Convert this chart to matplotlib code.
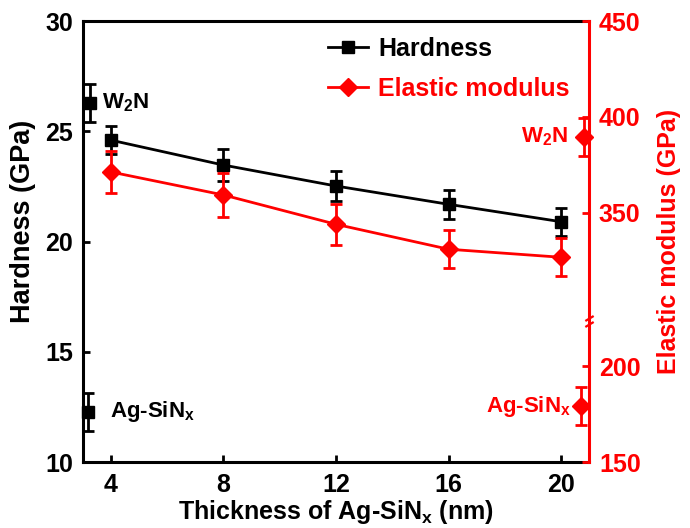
import numpy as np
import matplotlib
matplotlib.use("Agg")
from matplotlib import pyplot as plt
from matplotlib.transforms import blended_transform_factory

plt.rcParams['font.family'] = ['Liberation Sans', 'DejaVu Sans']
plt.rcParams['font.weight'] = 'bold'
plt.rcParams['mathtext.fontset'] = 'custom'
plt.rcParams['mathtext.rm'] = 'Liberation Sans:bold'
plt.rcParams['mathtext.bf'] = 'Liberation Sans:bold'
plt.rcParams['mathtext.default'] = 'bf'

# multilayer thickness (nm)
thickness = [4, 8, 12, 16, 20]
hardness = [24.6, 23.47, 22.52, 21.69, 20.9]
hardness_err = [0.65, 0.72, 0.67, 0.66, 0.63]
modulus = [371.3, 359.3, 344.0, 331.0, 326.8]
modulus_err = [11.0, 11.3, 10.7, 10.0, 10.0]

# single-layer reference films
ref_names = ['W$_2$N', 'Ag-SiN$_x$']
ref_hard_x = [3.25, 3.18]
ref_hard = [26.28, 12.27]
ref_hard_err = [0.85, 0.87]
ref_mod_x = [20.82, 20.7]
ref_mod = [389.7, 179.2]
ref_mod_err = [10.0, 10.0]

# broken right axis: 225..295 GPa is cut out
brk_lo, brk_hi = 225, 295
gap = brk_hi - brk_lo


def fwd(v):
    v = np.asarray(v, dtype=float)
    return np.where(v > brk_hi, v - gap, np.minimum(v, brk_lo))


def inv(u):
    u = np.asarray(u, dtype=float)
    return np.where(u > brk_lo, u + gap, u)


red = '#ff0000'
fig = plt.figure(figsize=(6.9, 5.28), dpi=100)
ax = fig.add_axes([0.120, 0.125, 0.734, 0.835])
ax2 = ax.twinx()

h_line, = ax.plot(thickness, hardness, color='black', lw=2.0, marker='s',
                  ms=9, label='Hardness', zorder=3)
ax.errorbar(thickness, hardness, yerr=hardness_err, fmt='none', ecolor='black',
            elinewidth=2, capsize=4.5, capthick=2, zorder=3)
ax.errorbar(ref_hard_x, ref_hard, yerr=ref_hard_err, fmt='s', color='black',
            ms=9, elinewidth=2, capsize=4.5, capthick=2, clip_on=False, zorder=3)

ax2.set_yscale('function', functions=(fwd, inv))
m_line, = ax2.plot(thickness, modulus, color=red, lw=2.0, marker='D',
                   ms=9, label='Elastic modulus', zorder=3)
ax2.errorbar(thickness, modulus, yerr=modulus_err, fmt='none', ecolor=red,
             elinewidth=2, capsize=4.5, capthick=2, zorder=3)
ax2.errorbar(ref_mod_x, ref_mod, yerr=ref_mod_err, fmt='D', color=red,
             ms=9, elinewidth=2, capsize=4.5, capthick=2, clip_on=False, zorder=3)

ax.set_xlim(3, 21)
ax.set_ylim(10, 30)
ax.set_xticks(thickness)
ax.set_yticks([10, 15, 20, 25, 30])
ax2.set_ylim(150, 450)
ax2.set_yticks([150, 200, 350, 400, 450])

for s in ['left', 'bottom', 'top']:
    ax.spines[s].set_linewidth(2.2)
for s in ['left', 'bottom', 'top']:
    ax2.spines[s].set_visible(False)
ax2.spines['right'].set_linewidth(2.2)
ax2.spines['right'].set_color(red)
ax.spines['right'].set_visible(False)

ax.tick_params(axis='both', direction='in', length=5, width=2, labelsize=18)
ax.tick_params(axis='y', pad=7)
ax.tick_params(axis='x', pad=8)
ax2.tick_params(axis='y', direction='in', length=5, width=2, labelsize=18,
                colors=red, pad=7)

ax.set_xlabel('Thickness of Ag-SiN$_x$ (nm)', fontsize=18, fontweight='bold',
              labelpad=1)
ax.set_ylabel('Hardness (GPa)', fontsize=19.5, fontweight='bold')
ax.yaxis.set_label_coords(-0.092, 0.546)
ax2.set_ylabel('Elastic modulus (GPa)', fontsize=18, fontweight='bold',
               color=red, labelpad=12)

# break mark on the right spine
tr = blended_transform_factory(ax2.transAxes, ax2.transData)
for dy in (-3, 3):
    ax2.plot([1], [brk_lo + dy], transform=tr, marker=[(-1, -0.6), (1, 0.6)],
             ms=6, mew=1.6, color=red, clip_on=False, zorder=5)

# labels for the reference films
ax.text(3.7, ref_hard[0], ref_names[0], fontsize=16, fontweight='bold',
        va='center', ha='left')
ax.text(3.95, ref_hard[1], ref_names[1], fontsize=16, fontweight='bold',
        va='center', ha='left')
ax2.text(20.25, ref_mod[0], ref_names[0], fontsize=16, fontweight='bold',
         color=red, va='center', ha='right')
ax2.text(20.35, ref_mod[1], ref_names[1], fontsize=16, fontweight='bold',
         color=red, va='center', ha='right')

leg = ax.legend(handles=[h_line, m_line], loc='upper left',
                bbox_to_anchor=(0.44, 1.015), frameon=False, fontsize=18,
                handlelength=1.6, handletextpad=0.4, labelspacing=0.62)
leg.get_texts()[1].set_color(red)
leg.set_zorder(6)

fig.savefig('out.png', dpi=100)
